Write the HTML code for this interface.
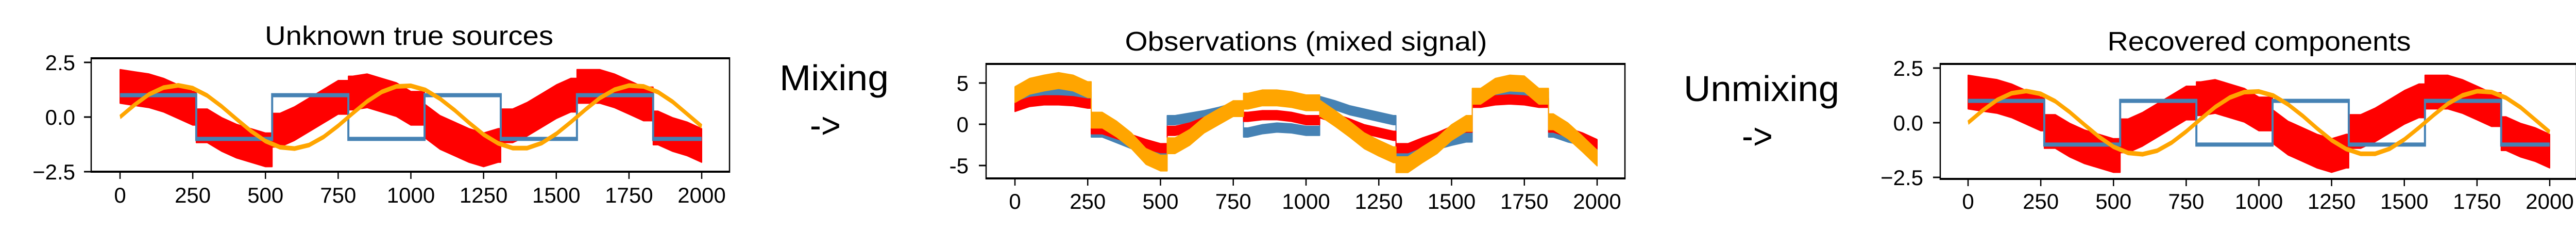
<!DOCTYPE html>
<html><head><meta charset="utf-8"><style>
html,body{margin:0;padding:0;background:#fff;}
svg{display:block;font-family:"Liberation Sans","DejaVu Sans",sans-serif;}
</style></head><body>
<svg id="fig" width="5144" height="448" viewBox="0 0 5144 448" xmlns="http://www.w3.org/2000/svg">
<rect x="0" y="0" width="5144" height="448" fill="#fff"/>
<text x="1513" y="175" font-size="70" textLength="212" lengthAdjust="spacingAndGlyphs">Mixing</text>
<text x="1572" y="267" font-size="70" textLength="60" lengthAdjust="spacingAndGlyphs">-&gt;</text>
<text x="3268" y="196" font-size="70" textLength="302" lengthAdjust="spacingAndGlyphs">Unmixing</text>
<text x="3381" y="288" font-size="70" textLength="60" lengthAdjust="spacingAndGlyphs">-&gt;</text>
</svg>
<script>
// sample positions (every 50 samples)
const sampleIdx = [0,50,100,150,200,250,300,350,400,450,500,550,600,650,700,750,800,850,900,950,1000,1050,1100,1150,1200,1250,1300,1350,1400,1450,1500,1550,1600,1650,1700,1750,1800,1850,1900,1950,2000];
const jumpIdx = [262,523,785,1047,1309,1571,1833];
const xTicks = [0,250,500,750,1000,1250,1500,1750,2000];
const xTickLabels = ["0","250","500","750","1000","1250","1500","1750","2000"];
const srcYTicks = [2.5,0,-2.5];
const srcYTickLabels = ["2.5","0.0","\u22122.5"];
const obsYTicks = [5,0,-5];
const obsYTickLabels = ["5","0","-5"];
// sources
const squareSwitch = [0,262,523,785,1047,1309,1571,1833,2000];
const squareLevels = [1,-1,1,-1,1,-1,1,-1];
const sineVals = [0,0.56,1.04,1.35,1.45,1.32,0.98,0.48,-0.09,-0.64,-1.10,-1.38,-1.44,-1.28,-0.91,-0.40,0.17,0.72,1.15,1.40,1.43,1.24,0.84,0.32,-0.26,-0.80,-1.20,-1.42,-1.42,-1.19,-0.77,-0.23,0.34,0.87,1.25,1.44,1.40,1.14,0.70,0.14,-0.43];
const noisyMid = [1.4,1.3,1.2,1.0,0.7,0.4,-0.4,-0.8,-1.1,-1.3,-1.5,-0.6,-0.3,0.1,0.5,0.9,1.1,1.2,1.0,0.8,0.4,-0.2,-0.7,-1.0,-1.3,-1.5,-1.3,-0.4,-0.1,0.3,0.7,1.0,1.4,1.4,1.2,0.9,0.6,-0.5,-0.8,-1.0,-1.3];
const noisySpread = 0.75;
// observations
const obsOrange = [3.6,4.6,5.0,5.3,5.0,4.2,0.5,-0.6,-2.0,-3.9,-4.7,-2.6,-1.6,-0.1,0.9,1.9,2.8,3.2,3.2,3.0,2.6,1.9,0.7,-0.6,-2.0,-2.9,-3.7,-4.9,-3.7,-2.6,-1.0,0.1,3.4,4.6,5.0,4.9,3.4,0.3,-0.8,-2.4,-4.1];
const obsRed = [2.1,2.7,2.9,2.9,2.8,2.5,-0.6,-1.2,-1.8,-2.4,-2.9,-0.8,-0.4,0.3,0.9,1.5,0.9,1.1,1.1,0.9,0.5,1.3,0.7,0.1,-0.6,-1.0,-1.4,-2.9,-2.2,-1.6,-0.8,-0.4,2.6,2.9,3.0,2.9,2.6,-0.4,-1.0,-1.6,-2.4];
const obsBlue = [3.0,3.6,3.8,3.9,3.7,3.4,-1.0,-1.7,-2.4,-3.1,-3.6,0.5,0.8,1.1,1.5,2.0,-1.0,-0.6,-0.4,-0.5,-0.8,2.8,2.3,1.7,1.3,0.9,0.5,-3.5,-3.1,-2.5,-2.0,-1.6,3.4,3.7,4.0,3.9,3.4,-1.0,-1.6,-2.0,-2.6];
const obsSpread = {orange:0.9, red:0.5, blue:0.5};

const NS = "http://www.w3.org/2000/svg";
const svg = document.getElementById('fig');
const SX = 2; // horizontal supersample for anisotropic strokes
function mk(tag, attrs, parent){ const e=document.createElementNS(NS,tag); for(const k in attrs) e.setAttribute(k,attrs[k]); (parent||svg).appendChild(e); return e; }
function linScale(d0,d1,r0,r1){ return v => r0 + (v-d0)*(r1-r0)/(d1-d0); }

function seriesPoints(vals, withJumps){
  const pts=[];
  for(let k=0;k<vals.length;k++){
    pts.push([sampleIdx[k], vals[k]]);
    if(withJumps && k<vals.length-1){
      for(const j of jumpIdx){ if(j>sampleIdx[k] && j<sampleIdx[k+1]){ pts.push([j, vals[k]]); pts.push([j, vals[k+1]]); } }
    }
  }
  return pts;
}

function makePanel(cfg){
  const g = mk('g',{});
  
  
  const xs = linScale(0,2000,cfg.x0,cfg.x2000);
  const ys = linScale(0,cfg.yTickVal,cfg.y0,cfg.yTickPx);
  const t = mk('text',{x:cfg.titleX,y:cfg.titleY,'font-size':52,'text-anchor':'middle',textLength:cfg.titleW,lengthAdjust:'spacingAndGlyphs'},g);
  t.textContent = cfg.title;
  
  
  const plot = mk('g',{transform:`scale(${1/SX},1)`},g);
  
  
  const P = p => (xs(p[0])*SX).toFixed(1)+','+ys(p[1]).toFixed(1);
  for(const s of cfg.series){
    if(s.kind==='band'){
      const up = seriesPoints(s.vals.map(v=>v+s.spread), s.jumps);
      const lo = seriesPoints(s.vals.map(v=>v-s.spread), s.jumps).reverse();
      const poly = mk('polygon',{points:up.concat(lo).map(P).join(' '),fill:s.color,stroke:s.color,'stroke-width':4,'stroke-linejoin':'round'},plot);
      
      
    } else if(s.kind==='line'){
      const pl = mk('polyline',{points:seriesPoints(s.vals,false).map(P).join(' '),fill:'none',stroke:s.color,'stroke-width':9,'stroke-linejoin':'round'},plot);
      
      
    } else if(s.kind==='square'){
      const pts=[];
      for(let i=0;i<squareLevels.length;i++){ pts.push([squareSwitch[i],squareLevels[i]]); pts.push([squareSwitch[i+1],squareLevels[i]]); }
      const pl = mk('polyline',{points:pts.map(P).join(' '),fill:'none',stroke:s.color,'stroke-width':8},plot);
      
      
    }
  }
  const L=cfg.left,R=cfg.right,T=cfg.top,B=cfg.bottom;
  const fr = mk('g',{stroke:'#000'},g);
  
  
  mk('line',{x1:L,y1:T,x2:R,y2:T,'stroke-width':4},fr);
  mk('line',{x1:L,y1:B,x2:R,y2:B,'stroke-width':4},fr);
  mk('line',{x1:L,y1:T-2,x2:L,y2:B+2,'stroke-width':2.5},fr);
  mk('line',{x1:R,y1:T-2,x2:R,y2:B+2,'stroke-width':2.5},fr);
  xTicks.forEach((v,i)=>{
    const x=xs(v);
    const tk = mk('line',{x1:x,y1:B,x2:x,y2:B+14,stroke:'#000','stroke-width':2.5},g);
    
    
    const lb = mk('text',{x:x,y:cfg.xLabelY,'font-size':42,'text-anchor':'middle'},g);
    lb.textContent = xTickLabels[i];
    
    
  });
  cfg.yTicks.forEach((v,i)=>{
    const y=ys(v);
    const tk = mk('line',{x1:L-14,y1:y,x2:L,y2:y,stroke:'#000','stroke-width':3},g);
    
    
    const lb = mk('text',{x:cfg.yLabelR,y:y+15,'font-size':42,'text-anchor':'end'},g);
    lb.textContent = cfg.yLabels[i];
    
    
  });
}

makePanel({name:'sources-panel',title:'Unknown true sources',titleX:794,titleY:87,titleW:560,
  left:177,right:1416,top:113,bottom:333,x0:233,x2000:1362,y0:227,yTickVal:2.5,yTickPx:121,
  xLabelY:393,yLabelR:146,yTicks:srcYTicks,yLabels:srcYTickLabels,
  series:[{kind:'band',name:'noisy-source',vals:noisyMid,spread:noisySpread,color:'#ff0000',jumps:true},
          {kind:'square',name:'square-source',color:'steelblue'},
          {kind:'line',name:'sine-source',vals:sineVals,color:'orange'}]});
makePanel({name:'observations-panel',title:'Observations (mixed signal)',titleX:2535,titleY:98,titleW:703,
  left:1914,right:3154,top:124,bottom:346,x0:1970,x2000:3100,y0:241,yTickVal:5,yTickPx:161,
  xLabelY:405,yLabelR:1880,yTicks:obsYTicks,yLabels:obsYTickLabels,
  series:[{kind:'band',name:'observation-blue',vals:obsBlue,spread:obsSpread.blue,color:'steelblue',jumps:true},
          {kind:'band',name:'observation-red',vals:obsRed,spread:obsSpread.red,color:'#ff0000',jumps:true},
          {kind:'band',name:'observation-orange',vals:obsOrange,spread:obsSpread.orange,color:'orange',jumps:true}]});
makePanel({name:'recovered-panel',title:'Recovered components',titleX:4385,titleY:98,titleW:589,
  left:3766,right:5001,top:124,bottom:347,x0:3820,x2000:4949,y0:238,yTickVal:2.5,yTickPx:132,
  xLabelY:405,yLabelR:3733,yTicks:srcYTicks,yLabels:srcYTickLabels,
  series:[{kind:'band',name:'recovered-noisy',vals:noisyMid,spread:noisySpread,color:'#ff0000',jumps:true},
          {kind:'square',name:'recovered-square',color:'steelblue'},
          {kind:'line',name:'recovered-sine',vals:sineVals,color:'orange'}]});
</script>
</body></html>
